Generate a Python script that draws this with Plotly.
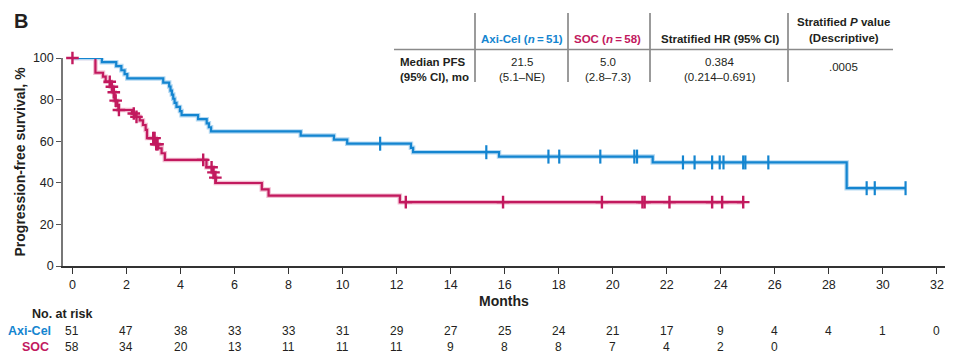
import plotly.graph_objects as go

# ---------------- data ----------------
# Axi-Cel Kaplan-Meier step curve: time (months) and survival (%) after each event
axi_t = [0, 1.09, 1.62, 1.81, 1.93, 2.03, 3.36, 3.58, 3.63, 3.68, 3.73, 3.78, 3.85, 3.98,
         4.04, 4.65, 4.97, 5.05, 5.13, 8.45, 9.68, 10.17, 12.53, 12.61, 15.79, 21.48,
         28.66, 30.84]
axi_s = [100, 98.0, 96.1, 94.1, 92.2, 90.2, 88.2, 86.3, 84.3, 82.4, 80.4, 78.4, 76.5, 74.5,
         72.5, 70.6, 68.6, 66.7, 64.7, 62.7, 60.8, 58.8, 56.8, 54.7, 52.6, 49.8,
         37.4, 37.4]
axi_censor_t = [11.39, 15.32, 17.62, 18.02, 19.54, 20.80, 20.90, 22.60, 23.03, 23.68,
                23.96, 24.10, 24.83, 24.91, 25.76, 29.40, 29.70, 30.84]

# SOC Kaplan-Meier step curve
soc_t = [0, 0.85, 1.13, 1.23, 1.42, 1.50, 1.56, 1.66, 1.70, 2.20, 2.33, 2.49, 2.61, 2.71,
         2.76, 3.08, 3.18, 3.30, 3.42, 4.96, 5.20, 5.26, 5.31, 7.01, 7.26, 12.12, 24.83]
soc_s = [100, 92.9, 91.0, 88.6, 86.2, 83.5, 79.5, 77.0, 75.0, 73.3, 71.7, 70.0, 67.8, 65.4,
         61.5, 58.5, 56.6, 54.2, 51.0, 47.5, 45.0, 42.5, 39.9, 36.8, 33.8, 30.7, 30.7]
soc_censor_t = [0.0, 1.38, 1.46, 1.53, 1.60, 1.72, 2.27, 2.37, 2.99, 3.04, 3.10, 3.15,
                4.84, 5.15, 5.22, 5.29, 12.34, 15.94, 19.60, 21.10, 21.18, 22.10, 23.68,
                24.05, 24.83]

# Number at risk
risk_months_axi = list(range(0, 33, 2))
risk_axi = [51, 47, 38, 33, 33, 31, 29, 27, 25, 24, 21, 17, 9, 4, 4, 1, 0]
risk_months_soc = list(range(0, 27, 2))
risk_soc = [58, 34, 20, 13, 11, 11, 11, 9, 8, 8, 7, 4, 2, 0]

x_ticks = list(range(0, 33, 2))
y_ticks = [0, 20, 40, 60, 80, 100]

# Summary table
table_cols = ["Axi-Cel (<i>n</i>\u2009=\u200951)", "SOC (<i>n</i>\u2009=\u200958)",
              "Stratified HR (95% CI)"]
table_row1 = ["21.5", "5.0", "0.384"]
table_row2 = ["(5.1\u2013NE)", "(2.8\u20137.3)", "(0.214\u20130.691)"]
p_header = ["Stratified <i>P</i> value", "(Descriptive)"]
p_value = ".0005"

# ---------------- style ----------------
BLUE = "#1485d0"
PINK = "#c2195e"
BLUE_HALO = "#b5d9f2"
PINK_HALO = "#f1bcd0"
TXT = "#231f20"
FONT = "Liberation Sans, Arial, Helvetica, sans-serif"

# the page body has an 8px default margin, so the figure is made 8px smaller
OFF = 8
W, H = 963 - OFF, 362 - OFF
L, R, T, B = 63 - OFF, 18, 58 - OFF, 96
PW, PH = W - L - R, H - T - B


def px(xp):  # window pixel x -> paper
    return (xp - OFF - L) / PW


def py(yp):  # window pixel y -> paper
    return (H - B - (yp - OFF)) / PH


def step_value(ts, ss, t):
    v = ss[0]
    for ti, si in zip(ts, ss):
        if ti <= t:
            v = si
    return v


fig = go.Figure()

# halos and lines (pink first, blue on top)
for ts, ss, col, w in [(soc_t, soc_s, PINK_HALO, 4.5), (axi_t, axi_s, BLUE_HALO, 4.5),
                       (soc_t, soc_s, PINK, 2.2), (axi_t, axi_s, BLUE, 2.2)]:
    fig.add_trace(go.Scatter(x=ts, y=ss, mode="lines", line=dict(color=col, width=w, shape="hv"),
                             hoverinfo="skip", showlegend=False, cliponaxis=False))

# censor marks
fig.add_trace(go.Scatter(x=axi_censor_t, y=[step_value(axi_t, axi_s, t) for t in axi_censor_t],
                         mode="markers", showlegend=False, cliponaxis=False,
                         marker=dict(symbol="line-ns", size=10, color=BLUE,
                                     line=dict(color=BLUE, width=2.2))))
fig.add_trace(go.Scatter(x=soc_censor_t, y=[step_value(soc_t, soc_s, t) for t in soc_censor_t],
                         mode="markers", showlegend=False, cliponaxis=False,
                         marker=dict(symbol="cross-thin", size=9, color=PINK,
                                     line=dict(color=PINK, width=2.4))))

ann = []


def add_text(x, y, text, size=12, color=TXT, bold=False, xanchor="center", xref="paper",
             textangle=0, yanchor="middle"):
    t = f"<b>{text}</b>" if bold else text
    ann.append(dict(x=x, y=y, xref=xref, yref="paper", text=t, showarrow=False,
                    xanchor=xanchor, yanchor=yanchor, textangle=textangle,
                    font=dict(family=FONT, size=size, color=color)))


# panel letter (kept inside the figure's top edge)
add_text(px(12), py(8), "B", size=20, bold=True, xanchor="left", yanchor="top")
# axis titles
add_text(px(19.5), py(162), "Progression-free survival, %", size=14, bold=True, textangle=-90)
add_text(px(504), py(301), "Months", size=14, bold=True)

# number at risk
add_text(px(30), py(314), "No. at risk", size=12.5, bold=True, xanchor="left")
add_text(px(52.5), py(330.5), "Axi-Cel", size=12.5, bold=True, color=BLUE, xanchor="right")
add_text(px(51), py(346.5), "SOC", size=12.5, bold=True, color=PINK, xanchor="right")
for m, n in zip(risk_months_axi, risk_axi):
    add_text(m, py(330.5), str(n), size=12, xref="x")
for m, n in zip(risk_months_soc, risk_soc):
    add_text(m, py(346.5), str(n), size=12, xref="x")

# summary table
col_x = [521.5, 607.5, 719.5]
col_colors = [BLUE, PINK, TXT]
for cx, head, c, r1, r2 in zip(col_x, table_cols, col_colors, table_row1, table_row2):
    add_text(px(cx), py(38.5), head, size=11.5, bold=True, color=c)
    add_text(px(cx), py(61.5), r1, size=11.5)
    add_text(px(cx), py(76.5), r2, size=11.5)
add_text(px(843.5), py(21.5), p_header[0], size=11.5, bold=True)
add_text(px(843.5), py(38), p_header[1], size=11.5, bold=True)
add_text(px(843.5), py(67), p_value, size=11.5)
add_text(px(398), py(61.5), "Median PFS", size=11.5, bold=True, xanchor="left")
add_text(px(398), py(76.5), "(95% CI), mo", size=11.5, bold=True, xanchor="left")

shapes = []
for vx in [475, 568, 650, 788]:
    shapes.append(dict(type="line", xref="paper", yref="paper", x0=px(vx), x1=px(vx),
                       y0=py(13), y1=py(82), line=dict(color="#7a7a7a", width=1.5)))
shapes.append(dict(type="line", xref="paper", yref="paper", x0=px(394), x1=px(893),
                   y0=py(49.5), y1=py(49.5), line=dict(color="#8a8a8a", width=1.5)))

fig.update_layout(
    width=W, height=H, margin=dict(l=L, r=R, t=T, b=B),
    paper_bgcolor="white", plot_bgcolor="white",
    font=dict(family=FONT, color=TXT),
    annotations=ann, shapes=shapes,
    xaxis=dict(range=[-0.35, 32.3], tickvals=x_ticks, ticks="outside", ticklen=6,
               tickwidth=1.3, tickcolor="#333", showline=True, linecolor="#333",
               linewidth=1.5, showgrid=False, zeroline=False,
               tickfont=dict(family=FONT, size=12.5, color="#222")),
    yaxis=dict(range=[0, 100], tickvals=y_ticks, ticks="outside", ticklen=5,
               tickwidth=1.3, tickcolor="#555", showline=True, linecolor="#777",
               linewidth=1.5, showgrid=False, zeroline=False,
               tickfont=dict(family=FONT, size=12.5, color="#222")),
)

fig.write_html("out.html")
